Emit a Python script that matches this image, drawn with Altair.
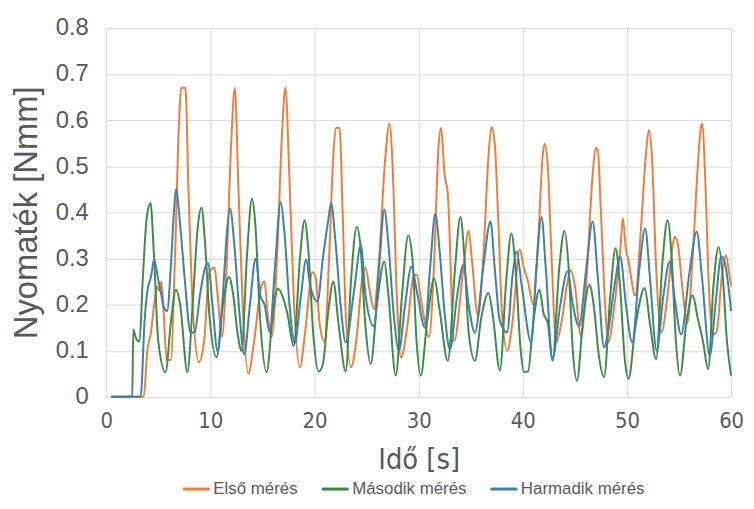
import altair as alt
import pandas as pd

# ---- data ----
series_names = ["Első mérés", "Második mérés", "Harmadik mérés"]
series_colors = ["#EE7D3A", "#3D8B4B", "#3E80A6"]

t_elso = [0.5, 3.6, 3.95, 4.3, 4.6, 4.9, 5.1, 5.3, 5.5, 5.8, 6.2, 6.6, 7.0, 7.2, 7.6, 7.9, 8.3, 8.9,
          9.4, 9.9, 10.4, 10.7, 11.1, 11.5, 12.0, 12.35, 12.7, 13.1, 13.65, 14.2, 14.9, 15.2, 15.5,
          15.9, 16.4, 16.9, 17.2, 17.6, 18.0, 18.6, 19.1, 19.8, 20.1, 20.5, 20.95, 21.4, 21.8, 22.05,
          22.4, 22.7, 23.0, 23.5, 24.0, 24.6, 24.9, 25.3, 25.7, 26.2, 26.8, 27.2, 27.5, 27.9, 28.3,
          28.9, 29.5, 29.8, 30.3, 31.0, 31.5, 31.9, 32.15, 32.5, 32.8, 33.4, 34.3, 34.8, 35.1, 35.7,
          36.2, 36.7, 37.0, 37.3, 37.7, 38.0, 38.5, 39.0, 39.7, 40.1, 40.5, 41.0, 41.5, 41.9, 42.1,
          42.4, 42.8, 43.2, 43.7, 44.3, 44.6, 45.0, 45.6, 46.1, 46.7, 47.0, 47.2, 47.5, 47.9, 48.2,
          48.8, 49.4, 49.6, 49.9, 50.1, 50.8, 51.3, 51.8, 52.1, 52.4, 52.8, 53.3, 53.9, 54.4, 54.6,
          54.9, 55.3, 55.8, 56.3, 56.8, 57.1, 57.25, 57.5, 57.9, 58.3, 58.6, 59.1, 59.5, 59.8, 60.0]
v_elso = [0, 0, 0.10, 0.14, 0.20, 0.24, 0.23, 0.25, 0.19, 0.08, 0.08, 0.30, 0.60, 0.67, 0.67, 0.45,
          0.20, 0.075, 0.12, 0.27, 0.28, 0.22, 0.13, 0.25, 0.55, 0.67, 0.45, 0.20, 0.05, 0.12, 0.24,
          0.25, 0.18, 0.13, 0.30, 0.58, 0.67, 0.47, 0.22, 0.064, 0.14, 0.27, 0.26, 0.157, 0.12, 0.30,
          0.52, 0.583, 0.583, 0.40, 0.18, 0.064, 0.12, 0.26, 0.28, 0.23, 0.19, 0.30, 0.52, 0.592,
          0.50, 0.22, 0.085, 0.15, 0.26, 0.265, 0.20, 0.13, 0.30, 0.54, 0.583, 0.48, 0.44, 0.12,
          0.28, 0.36, 0.30, 0.175, 0.30, 0.52, 0.585, 0.55, 0.35, 0.18, 0.10, 0.16, 0.32, 0.28,
          0.25, 0.20, 0.35, 0.52, 0.549, 0.50, 0.28, 0.118, 0.16, 0.25, 0.275, 0.24, 0.13, 0.25,
          0.48, 0.54, 0.535, 0.40, 0.20, 0.118, 0.20, 0.33, 0.387, 0.32, 0.30, 0.22, 0.35, 0.52,
          0.578, 0.52, 0.28, 0.14, 0.22, 0.33, 0.347, 0.33, 0.24, 0.16, 0.30, 0.50, 0.585, 0.592,
          0.48, 0.22, 0.135, 0.14, 0.26, 0.307, 0.27, 0.24]

t_masodik = [0.5, 2.5, 2.6, 2.9, 3.2, 3.5, 3.9, 4.25, 4.6, 5.0, 5.7, 6.2, 6.7, 7.1, 7.8, 8.3, 8.8,
             9.15, 9.5, 9.9, 10.6, 11.2, 11.8, 12.2, 12.6, 13.0, 13.5, 14.0, 14.3, 14.8, 15.4, 16.0,
             16.5, 16.9, 17.4, 18.0, 18.6, 19.05, 19.4, 19.9, 20.4, 20.8, 21.3, 21.8, 22.3, 23.0,
             23.5, 24.05, 24.4, 24.9, 25.4, 26.0, 26.7, 27.1, 27.8, 28.4, 29.0, 29.4, 29.8, 30.2,
             30.8, 31.5, 32.0, 32.8, 33.5, 34.0, 34.4, 34.8, 35.4, 36.0, 36.7, 37.1, 37.8, 38.4,
             38.9, 39.3, 39.8, 40.1, 40.5, 41.0, 41.6, 42.0, 42.4, 42.85, 43.5, 44.0, 44.4, 44.8,
             45.2, 45.8, 46.4, 46.8, 47.3, 47.8, 48.4, 48.9, 49.3, 49.8, 50.15, 50.8, 51.7, 52.2,
             52.8, 53.4, 53.9, 54.3, 54.7, 55.1, 55.7, 56.3, 56.8, 57.3, 57.8, 58.3, 58.8, 59.2,
             59.6, 60.0]
v_masodik = [0, 0, 0.145, 0.125, 0.12, 0.25, 0.39, 0.42, 0.30, 0.12, 0.053, 0.16, 0.232, 0.20,
             0.053, 0.20, 0.37, 0.41, 0.33, 0.18, 0.086, 0.20, 0.26, 0.22, 0.14, 0.10, 0.30, 0.43,
             0.38, 0.16, 0.053, 0.18, 0.235, 0.22, 0.18, 0.11, 0.30, 0.383, 0.32, 0.13, 0.055, 0.07,
             0.18, 0.25, 0.16, 0.055, 0.25, 0.368, 0.33, 0.15, 0.071, 0.20, 0.293, 0.22, 0.046,
             0.22, 0.35, 0.30, 0.12, 0.046, 0.16, 0.257, 0.19, 0.078, 0.28, 0.39, 0.30, 0.14,
             0.078, 0.17, 0.225, 0.18, 0.057, 0.25, 0.354, 0.28, 0.10, 0.054, 0.055, 0.16, 0.232,
             0.18, 0.16, 0.078, 0.28, 0.36, 0.28, 0.10, 0.035, 0.17, 0.243, 0.20, 0.09, 0.043,
             0.22, 0.322, 0.25, 0.08, 0.039, 0.15, 0.236, 0.16, 0.082, 0.29, 0.383, 0.30, 0.12,
             0.046, 0.16, 0.22, 0.17, 0.12, 0.06, 0.24, 0.325, 0.26, 0.12, 0.046]

t_harmadik = [0.5, 3.3, 3.7, 3.97, 4.3, 4.6, 5.0, 5.3, 5.55, 5.85, 6.2, 6.5, 6.7, 7.15, 7.6, 8.1,
              8.5, 9.0, 9.5, 9.8, 10.2, 10.7, 11.2, 11.6, 11.9, 12.3, 12.8, 13.25, 13.8, 14.35,
              14.8, 15.2, 15.7, 16.2, 16.75, 17.1, 17.6, 18.1, 18.7, 19.2, 19.6, 20.3, 20.8, 21.3,
              21.6, 22.0, 22.5, 23.0, 23.8, 24.45, 24.9, 25.7, 26.2, 26.7, 27.1, 27.6, 28.1, 28.7,
              29.3, 29.9, 30.6, 31.1, 31.6, 32.0, 32.5, 33.0, 33.7, 34.3, 34.8, 35.4, 36.2, 36.9,
              37.3, 37.8, 38.5, 39.0, 39.4, 39.9, 40.8, 41.3, 41.8, 42.2, 42.85, 43.6, 44.3, 44.8,
              45.4, 46.1, 46.7, 47.2, 47.8, 48.1, 48.8, 49.35, 49.9, 50.5, 51.2, 51.75, 52.2,
              52.85, 53.5, 54.1, 54.6, 55.2, 56.0, 56.7, 57.2, 57.95, 58.5, 59.05, 59.4, 60.0]
v_harmadik = [0, 0, 0.17, 0.232, 0.26, 0.297, 0.254, 0.22, 0.193, 0.186, 0.28, 0.40, 0.45, 0.36,
              0.24, 0.139, 0.14, 0.22, 0.28, 0.29, 0.20, 0.098, 0.22, 0.36, 0.408, 0.33, 0.18,
              0.092, 0.20, 0.30, 0.22, 0.20, 0.14, 0.28, 0.422, 0.36, 0.20, 0.116, 0.22, 0.298,
              0.24, 0.207, 0.30, 0.38, 0.42, 0.34, 0.20, 0.118, 0.23, 0.329, 0.22, 0.153, 0.28,
              0.406, 0.33, 0.18, 0.10, 0.20, 0.282, 0.22, 0.15, 0.28, 0.397, 0.32, 0.18, 0.103,
              0.22, 0.286, 0.20, 0.139, 0.28, 0.38, 0.28, 0.164, 0.14, 0.26, 0.315, 0.24, 0.118,
              0.28, 0.39, 0.28, 0.082, 0.20, 0.272, 0.20, 0.153, 0.28, 0.38, 0.26, 0.107, 0.13,
              0.24, 0.304, 0.20, 0.118, 0.28, 0.365, 0.26, 0.10, 0.22, 0.293, 0.21, 0.135, 0.27,
              0.358, 0.26, 0.089, 0.20, 0.304, 0.29, 0.186]

x_ticks = [0, 10, 20, 30, 40, 50, 60]
y_ticks = [0, 0.1, 0.2, 0.3, 0.4, 0.5, 0.6, 0.7, 0.8]

rows = []
for name, ts, vs in zip(series_names, [t_elso, t_masodik, t_harmadik], [v_elso, v_masodik, v_harmadik]):
    for t, v in zip(ts, vs):
        rows.append({"Sorozat": name, "t": t, "v": v})
df = pd.DataFrame(rows)

GRAY = "#595959"
GRID = "#D9D9D9"
NARROW = "DejaVu Sans Condensed, Liberation Sans, sans-serif"
REG = "Liberation Sans, Arial, sans-serif"

x_enc = alt.X(
    "t:Q",
    scale=alt.Scale(domain=[0, 60], nice=False, zero=False),
    axis=alt.Axis(
        values=x_ticks, title="Idő [s]", grid=True, gridColor=GRID, domain=False,
        ticks=False, tickSize=0, labelFont=NARROW, labelFontSize=22, labelColor=GRAY,
        labelPadding=14, labelFlush=False,
        titleFont=NARROW, titleFontSize=29, titleFontWeight="normal", titleColor=GRAY,
        titleX=315, titleY=63, titleBaseline="middle", titleAlign="center",
    ),
)
y_enc = alt.Y(
    "v:Q",
    scale=alt.Scale(domain=[0, 0.8], nice=False),
    axis=alt.Axis(
        values=y_ticks, title="Nyomaték [Nmm]", format="~g", grid=True, gridColor=GRID,
        domain=False, ticks=False, tickSize=0, labelFont=REG, labelFontSize=24,
        labelColor=GRAY, labelPadding=18, labelBaseline="middle",
        titleFont=REG, titleFontSize=33, titleFontWeight="normal", titleColor=GRAY,
        titleAngle=270, titleX=-80, titleY=186, titleBaseline="middle", titleAlign="center",
    ),
)
color_enc = alt.Color(
    "Sorozat:N",
    scale=alt.Scale(domain=series_names, range=series_colors),
    legend=alt.Legend(
        title=None, orient="none", legendX=76, legendY=450, direction="horizontal",
        symbolType="stroke", symbolSize=729, symbolStrokeWidth=3, labelFont=REG,
        labelFontSize=17, labelColor=GRAY, labelOffset=2, columnPadding=17,
    ),
)

layers = []
for name in series_names:
    layers.append(
        alt.Chart(df)
        .transform_filter(alt.datum.Sorozat == name)
        .mark_line(interpolate="monotone", strokeWidth=2)
        .encode(x=x_enc, y=y_enc, color=color_enc)
    )

chart = (
    alt.layer(*layers)
    .properties(
        width=630,
        height=372,
        autosize=alt.AutoSizeParams(type="none"),
        padding={"left": 99, "top": 18, "right": 15, "bottom": 99},
        background="white",
    )
    .configure_view(strokeWidth=0)
)

chart.save("out.html", embed_options={"renderer": "svg", "actions": False})
